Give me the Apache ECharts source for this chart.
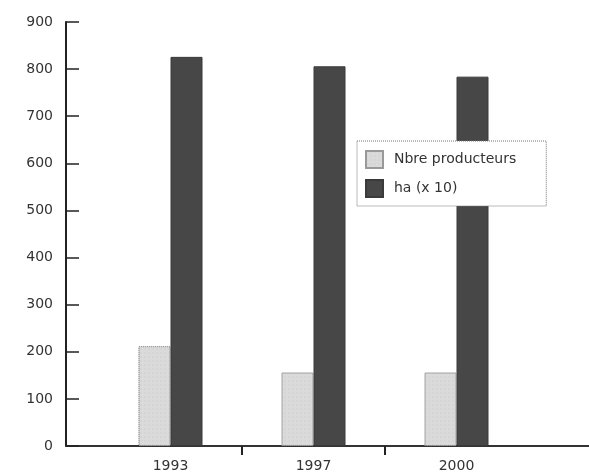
<!DOCTYPE html>
<html>
<head>
<meta charset="utf-8">
<script src="https://cdn.jsdelivr.net/npm/echarts@6/dist/echarts.min.js"></script>
<style>
  html, body { margin: 0; padding: 0; background: #fff; }
  #chart { width: 589px; height: 476px; }
</style>
</head>
<body>
<div id="chart"></div>
<script>
var years = ['1993', '1997', '2000'];
var producteurs = [212, 156, 156];
var hectares = [826, 806, 784];
var yTicks = [0, 100, 200, 300, 400, 500, 600, 700, 800, 900];

var font = 'DejaVu Sans';
var chart = echarts.init(document.getElementById('chart'));

chart.setOption({
    animation: false,
    backgroundColor: '#fff',
    grid: [
        // axes frame
        { left: 66, right: 0, top: 22, bottom: 30 },
        // bars, one empty slot on the right so the last tick falls off the page
        { left: 99, width: 572, top: 22, bottom: 30, outerBoundsMode: 'none' }
    ],
    legend: {
        orient: 'vertical',
        left: 357,
        top: 141,
        padding: [9, 30, 8, 8],
        itemWidth: 17,
        itemHeight: 17,
        itemGap: 10,
        icon: 'rect',
        backgroundColor: '#fff',
        borderColor: '#777',
        borderWidth: 1,
        borderType: 'dotted',
        textStyle: { fontFamily: font, fontSize: 14, color: '#333', padding: [0, 0, 0, 6] },
        data: ['Nbre producteurs', 'ha (x 10)']
    },
    xAxis: [
        {
            gridIndex: 0, type: 'value', min: 0, max: 1,
            axisLine: { show: true, lineStyle: { color: '#333', width: 2 } },
            axisTick: { show: false }, axisLabel: { show: false }, splitLine: { show: false }
        },
        {
            gridIndex: 1, type: 'category',
            data: years.concat(['']),
            axisLine: { show: false },
            axisTick: {
                show: true, length: 9,
                interval: function (i) { return i === 1 || i === 2; },
                lineStyle: { color: '#222', width: 2 }
            },
            axisLabel: { margin: 13, fontFamily: font, fontSize: 14, color: '#333' },
            splitLine: { show: false }
        }
    ],
    yAxis: [
        {
            gridIndex: 0, type: 'value', min: 0, max: 900, interval: 100,
            axisLine: { show: true, lineStyle: { color: '#222', width: 2 } },
            axisTick: { show: true, inside: true, length: 13, lineStyle: { color: '#222', width: 1.5 } },
            axisLabel: {
                margin: 13, fontFamily: font, fontSize: 14, color: '#333',
                formatter: function (v) { return yTicks.indexOf(v) >= 0 ? String(v) : ''; }
            },
            splitLine: { show: false }
        },
        {
            gridIndex: 1, type: 'value', min: 0, max: 900, show: false
        }
    ],
    series: [
        {
            name: 'Nbre producteurs',
            type: 'bar',
            xAxisIndex: 1, yAxisIndex: 1,
            data: producteurs,
            barWidth: 32,
            barGap: '0%',
            itemStyle: {
                color: '#dadada',
                borderColor: '#999',
                borderWidth: 1,
                borderType: 'dotted',
                decal: { symbol: 'rect', symbolSize: 0.6, color: 'rgba(0,0,0,0.07)', dashArrayX: [2, 2], dashArrayY: [2, 2], rotation: 0 }
            }
        },
        {
            name: 'ha (x 10)',
            type: 'bar',
            xAxisIndex: 1, yAxisIndex: 1,
            data: hectares,
            barWidth: 32,
            itemStyle: {
                color: '#474747',
                borderColor: '#3a3a3a',
                borderWidth: 1
            }
        }
    ]
});
</script>
</body>
</html>
